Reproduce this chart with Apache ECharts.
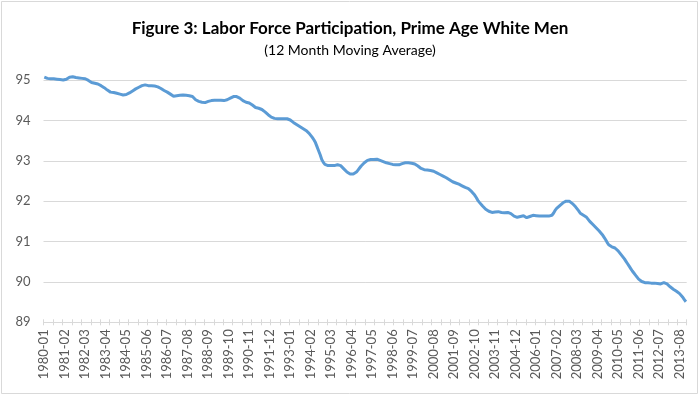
<!DOCTYPE html>
<html>
<head>
<meta charset="utf-8">
<script src="https://cdn.jsdelivr.net/npm/echarts@6/dist/echarts.min.js"></script>
<style>html,body{margin:0;padding:0;background:#fff}#c{width:700px;height:396px}</style>
</head>
<body>
<div id="c"></div>
<script>
const titleText = "Figure 3: Labor Force Participation, Prime Age White Men";
const subtitleText = "(12 Month Moving Average)";
const startYear = 1980;
const yTicks = [89, 90, 91, 92, 93, 94, 95];

// Monthly values, one row per year (1980-01 .. 2013-12)
const participation = [
  95.07, 95.05, 95.04, 95.04, 95.03, 95.03, 95.03, 95.02, 95.02, 95.02, 95.01, 95.01,
  95.00, 95.00, 95.02, 95.05, 95.07, 95.08, 95.08, 95.07, 95.06, 95.06, 95.05, 95.05,
  95.04, 95.03, 95.03, 95.01, 94.99, 94.96, 94.94, 94.93, 94.92, 94.91, 94.90, 94.88,
  94.86, 94.84, 94.81, 94.78, 94.75, 94.72, 94.70, 94.70, 94.69, 94.68, 94.67, 94.66,
  94.65, 94.64, 94.63, 94.63, 94.64, 94.66, 94.68, 94.70, 94.73, 94.75, 94.78, 94.80,
  94.82, 94.84, 94.86, 94.87, 94.88, 94.87, 94.86, 94.87, 94.86, 94.86, 94.85, 94.85,
  94.83, 94.81, 94.79, 94.76, 94.74, 94.72, 94.70, 94.68, 94.65, 94.62, 94.60, 94.60,
  94.61, 94.61, 94.62, 94.62, 94.63, 94.62, 94.62, 94.61, 94.61, 94.60, 94.59, 94.56,
  94.51, 94.48, 94.47, 94.46, 94.45, 94.44, 94.44, 94.45, 94.47, 94.48, 94.49, 94.50,
  94.50, 94.51, 94.50, 94.49, 94.50, 94.50, 94.49, 94.50, 94.51, 94.53, 94.55, 94.57,
  94.59, 94.60, 94.59, 94.57, 94.55, 94.52, 94.49, 94.47, 94.45, 94.44, 94.43, 94.41,
  94.38, 94.35, 94.32, 94.31, 94.30, 94.29, 94.27, 94.24, 94.21, 94.17, 94.14, 94.11,
  94.08, 94.06, 94.05, 94.04, 94.04, 94.04, 94.04, 94.05, 94.04, 94.04, 94.04, 94.04,
  94.01, 93.98, 93.95, 93.92, 93.90, 93.87, 93.85, 93.82, 93.80, 93.78, 93.75, 93.72,
  93.68, 93.63, 93.58, 93.52, 93.45, 93.35, 93.25, 93.15, 93.03, 92.96, 92.91, 92.89,
  92.88, 92.87, 92.88, 92.88, 92.88, 92.89, 92.90, 92.90, 92.88, 92.84, 92.80, 92.76,
  92.72, 92.69, 92.67, 92.66, 92.67, 92.69, 92.72, 92.77, 92.82, 92.87, 92.91, 92.95,
  92.98, 93.01, 93.02, 93.03, 93.04, 93.03, 93.03, 93.04, 93.03, 93.01, 93.00, 92.98,
  92.97, 92.95, 92.94, 92.93, 92.92, 92.91, 92.90, 92.90, 92.91, 92.90, 92.91, 92.93,
  92.94, 92.95, 92.96, 92.95, 92.95, 92.94, 92.93, 92.92, 92.90, 92.87, 92.84, 92.81,
  92.79, 92.78, 92.78, 92.77, 92.77, 92.76, 92.76, 92.74, 92.72, 92.70, 92.68, 92.66,
  92.64, 92.62, 92.60, 92.58, 92.55, 92.53, 92.50, 92.48, 92.46, 92.45, 92.44, 92.42,
  92.40, 92.38, 92.36, 92.34, 92.32, 92.31, 92.28, 92.24, 92.20, 92.15, 92.09, 92.02,
  91.97, 91.93, 91.88, 91.84, 91.80, 91.77, 91.75, 91.73, 91.72, 91.72, 91.73, 91.74,
  91.74, 91.73, 91.72, 91.71, 91.71, 91.72, 91.72, 91.71, 91.69, 91.66, 91.63, 91.61,
  91.60, 91.61, 91.62, 91.63, 91.64, 91.62, 91.59, 91.60, 91.62, 91.64, 91.65, 91.65,
  91.64, 91.64, 91.63, 91.63, 91.63, 91.63, 91.63, 91.63, 91.63, 91.63, 91.65, 91.70,
  91.77, 91.82, 91.86, 91.89, 91.93, 91.96, 91.98, 92.00, 92.00, 92.00, 91.98, 91.94,
  91.90, 91.86, 91.81, 91.76, 91.70, 91.67, 91.65, 91.63, 91.60, 91.55, 91.50, 91.46,
  91.42, 91.38, 91.34, 91.30, 91.26, 91.22, 91.17, 91.11, 91.05, 90.98, 90.92, 90.89,
  90.87, 90.86, 90.84, 90.82, 90.77, 90.72, 90.67, 90.62, 90.57, 90.51, 90.45, 90.39,
  90.33, 90.27, 90.22, 90.17, 90.12, 90.07, 90.03, 90.01, 89.99, 89.98, 89.98, 89.98,
  89.98, 89.97, 89.98, 89.97, 89.97, 89.96, 89.97, 89.95, 89.97, 89.98, 89.97, 89.95,
  89.92, 89.88, 89.85, 89.82, 89.79, 89.77, 89.74, 89.71, 89.67, 89.62, 89.56, 89.51
];

const categories = participation.map(function (v, i) {
  const y = startYear + Math.floor(i / 12);
  const m = (i % 12) + 1;
  return y + '-' + (m < 10 ? '0' + m : '' + m);
});

const FONT = 'Lato';
const chart = echarts.init(document.getElementById('c'), null, {renderer: 'canvas'});
chart.setOption({
  animation: false,
  backgroundColor: '#ffffff',
  title: [
    {text: titleText, left: 'center', top: 15,
     textStyle: {fontFamily: FONT, fontSize: 17, fontWeight: 'bold', color: '#000000'}},
    {text: subtitleText, left: 'center', top: 38,
     textStyle: {fontFamily: FONT, fontSize: 14, fontWeight: 'normal', color: '#000000'}}
  ],
  graphic: [{
    type: 'rect', shape: {x: 1.5, y: 1.5, width: 696, height: 392},
    style: {fill: 'none', stroke: '#d9d9d9', lineWidth: 1}, silent: true
  }],
  grid: {left: 43.5, right: 13.3, top: 80, bottom: 73.7, containLabel: false},
  xAxis: [{
    type: 'category', data: categories, boundaryGap: true, position: 'bottom',
    axisLine: {show: true, lineStyle: {color: '#d9d9d9', width: 1}},
    axisTick: {show: true, interval: 5, length: 3, lineStyle: {color: '#d9d9d9'}},
    axisLabel: {interval: 12, rotate: 90, fontFamily: FONT, fontSize: 13, color: '#595959', margin: 7},
    splitLine: {show: false}
  }, {
    type: 'category', data: categories, boundaryGap: true, position: 'bottom', offset: 0,
    axisLine: {show: false},
    axisTick: {show: true, inside: true, interval: 5, length: 3, lineStyle: {color: '#d9d9d9'}},
    axisLabel: {show: false},
    splitLine: {show: false}
  }],
  yAxis: {
    type: 'value', min: yTicks[0], max: yTicks[yTicks.length - 1], interval: 1,
    axisLine: {show: false}, axisTick: {show: false},
    axisLabel: {fontFamily: FONT, fontSize: 13, color: '#595959', margin: 13},
    splitLine: {show: true, lineStyle: {color: '#d9d9d9', width: 1}}
  },
  series: [{
    type: 'line', data: participation, xAxisIndex: 0, yAxisIndex: 0,
    showSymbol: false, symbol: 'none', clip: false, smooth: false,
    lineStyle: {color: '#5B9BD5', width: 3}
  }]
});
</script>
</body>
</html>
